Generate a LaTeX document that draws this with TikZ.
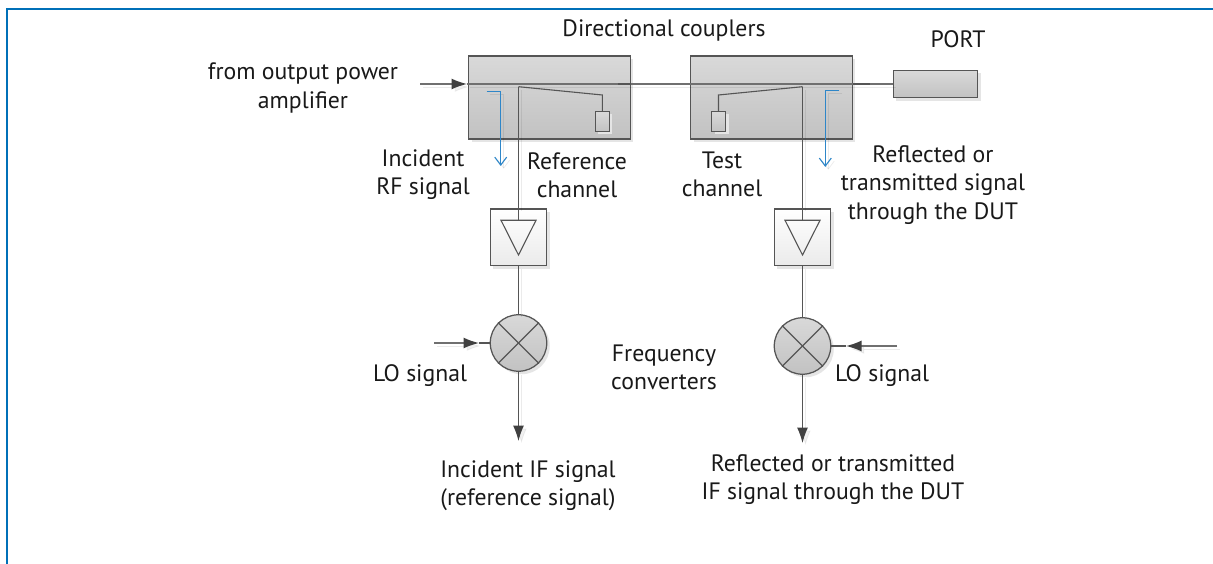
\documentclass[tikz,border=0pt]{standalone}
\usepackage{fontspec}
\setmainfont{PT Sans}
\usepackage{xcolor}
\usetikzlibrary{arrows.meta, shadows}
\definecolor{framecol}{HTML}{0070B8}
\definecolor{bluecol}{HTML}{2E86C8}
\definecolor{linecol}{HTML}{555555}
\definecolor{maincol}{HTML}{707070}
\definecolor{tipcol}{HTML}{404040}
\tikzset{
	unitshadow/.style = {drop shadow = {shadow xshift = 0.06cm, shadow yshift = -0.06cm, fill = black!10, opacity = 1}},
	unitbox/.style = {draw = linecol, line width = 0.25mm, inner sep = 0pt, top color = black!15, bottom color = black!24, unitshadow},
	coupler/.style = {unitbox, minimum width = 3.24cm, minimum height = 1.66cm},
	portbox/.style = {unitbox, minimum width = 1.69cm, minimum height = 0.55cm},
	loadbox/.style = {unitbox, minimum width = 0.28cm, minimum height = 0.40cm},
	ampbox/.style = {unitbox, top color = white, bottom color = black!8, minimum width = 1.13cm, minimum height = 1.13cm},
	mixer/.style = {unitbox, circle, minimum size = 1.13cm},
	wireshadow/.style = {preaction = {draw = black, opacity = 0.08, transform canvas = {shift = {(0.06cm, -0.06cm)}}}},
	wire/.style = {draw = linecol, line width = 0.22mm},
	mainwire/.style = {draw = maincol, line width = 0.3mm},
	feed/.style = {mainwire, -{Latex[length = 3.1mm, width = 2.2mm, color = tipcol]}},
	outfeed/.style = {wire, wireshadow, -{Latex[length = 3.1mm, width = 2.2mm, color = tipcol]}},
	probe/.style = {draw = bluecol, line width = 0.22mm, -{Straight Barb[length = 1.6mm, width = 2.4mm]}},
	caption/.style = {align = center, text = black!90, font = \fontsize{13.5}{16}\selectfont, inner sep = 0pt}
}
\begin{document}
\begin{tikzpicture}[x = 0.02cm, y = -0.02cm]
	\useasboundingbox (0, 0) rectangle (1213, 564);
	% frame
	\fill[white] (0, 0) rectangle (1213, 564);
	\draw[framecol, line width = 0.4mm] (1213, 9) -- (7, 9) -- (7, 564);
	% blocks
	\node[coupler] (coupler1) at (549.5, 97.5) {};
	\node[coupler] (coupler2) at (771.5, 97.5) {};
	\node[portbox] (port) at (935.5, 84) {};
	\node[loadbox] (load1) at (602.3, 121.5) {};
	\node[loadbox] (load2) at (718.5, 121.5) {};
	\node[ampbox] (amp1) at (518.5, 237.3) {};
	\node[ampbox] (amp2) at (802.5, 237.3) {};
	\node[mixer] (mix1) at (518.5, 343) {};
	\node[mixer] (mix2) at (802.5, 346) {};
	% points
	\coordinate (in) at (420, 84);
	\coordinate (intip) at (467, 84);
	\coordinate (dark1) at (618, 84);
	\coordinate (dark2) at (870, 84);
	\coordinate (tap1) at (518.5, 86.7);
	\coordinate (tap2) at (802.5, 86.7);
	\coordinate (bend1) at (602.3, 95);
	\coordinate (bend2) at (718.5, 95);
	\coordinate (lo1) at (434, 343);
	\coordinate (lo1tip) at (479, 343);
	\coordinate (lo2) at (897, 346);
	\coordinate (lo2tip) at (846, 346);
	\coordinate (out1) at (518.5, 441);
	\coordinate (out2) at (802.5, 443);
	\coordinate (tri1a) at (501, 220.3);
	\coordinate (tri1b) at (536, 220.3);
	\coordinate (tri1c) at (518.5, 255);
	\coordinate (tri2a) at (785, 220.3);
	\coordinate (tri2b) at (820, 220.3);
	\coordinate (tri2c) at (802.5, 255);
	% wires
	\draw[feed, wireshadow] (in) -- (intip);
	\draw[mainwire, wireshadow] (intip) -- (port.west);
	\draw[wire, line width = 0.3mm] (dark1) -- (coupler1.east |- dark1);
	\draw[wire, line width = 0.3mm] (coupler2.east |- dark2) -- (dark2);
	\draw[wire] (tap1) -- (bend1) -- (load1.north);
	\draw[wire] (tap2) -- (bend2) -- (load2.north);
	\draw[wire, wireshadow] (tap1) -- (amp1.north);
	\draw[wire, wireshadow] (tap2) -- (amp2.north);
	\draw[wire] (tri1a) -- (tri1b) -- (tri1c) -- cycle;
	\draw[wire] (tri2a) -- (tri2b) -- (tri2c) -- cycle;
	\draw[wire] (amp1.north) -- (tri1a -| amp1.north);
	\draw[wire] (amp2.north) -- (tri2a -| amp2.north);
	\draw[wire, wireshadow] (amp1.south) -- (mix1.north);
	\draw[wire, wireshadow] (amp2.south) -- (mix2.north);
	\draw[wire] (mix1.45) -- (mix1.225);
	\draw[wire] (mix1.135) -- (mix1.315);
	\draw[wire] (mix2.45) -- (mix2.225);
	\draw[wire] (mix2.135) -- (mix2.315);
	\draw[feed, wireshadow] (lo1) -- (lo1tip);
	\draw[wire] (lo1tip) -- (mix1.west);
	\draw[feed, wireshadow] (lo2) -- (lo2tip);
	\draw[wire] (lo2tip) -- (mix2.east);
	\draw[outfeed] (mix1.south) -- (out1);
	\draw[outfeed] (mix2.south) -- (out2);
	% blue signal paths
	\coordinate (sig1) at (486.7, 91.7);
	\coordinate (sig1c) at (500.7, 91.7);
	\coordinate (sig1e) at (500.7, 166);
	\coordinate (sig2) at (839.3, 90.7);
	\coordinate (sig2c) at (825.3, 90.7);
	\coordinate (sig2e) at (825.3, 167);
	\draw[probe, wireshadow] (sig1) -- (sig1c) -- (sig1e);
	\draw[probe, wireshadow] (sig2) -- (sig2c) -- (sig2e);
	% labels
	\node[caption] (couplers) at (664, 30) {Directional couplers};
	\node[caption] (portlabel) at (958, 39) {PORT};
	\node[caption] (amplabel) at (303, 88) {from output power\\amplifier};
	\node[caption] (incident) at (423, 175) {Incident\\RF signal};
	\node[caption] (refchan) at (577, 175) {Reference\\channel};
	\node[caption] (testchan) at (722, 174) {Test\\channel};
	\node[caption] (reflected) at (933, 185) {Reflected or\\transmitted signal\\through the DUT};
	\node[caption] (lolabel1) at (420, 376) {LO signal};
	\node[caption] (lolabel2) at (882, 376) {LO signal};
	\node[caption] (converters) at (664, 367) {Frequency\\converters};
	\node[caption] (ifsignal1) at (528, 486) {Incident IF signal\\(reference signal)};
	\node[caption] (ifsignal2) at (833, 480) {Reflected or transmitted\\IF signal through the DUT};
\end{tikzpicture}
\end{document}
